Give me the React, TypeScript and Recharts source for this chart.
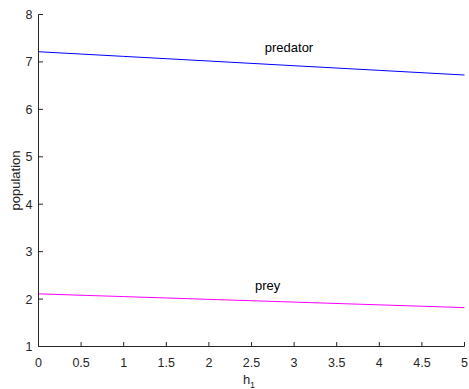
import { CartesianGrid, Line, LineChart, ReferenceDot, XAxis, YAxis } from 'recharts';

const h1Values = [0, 1, 2, 3, 4, 5];
const predator = [7.215, 7.117, 7.019, 6.92, 6.822, 6.724];
const prey = [2.11, 2.052, 1.994, 1.936, 1.878, 1.82];
const xTicks = [0, 0.5, 1, 1.5, 2, 2.5, 3, 3.5, 4, 4.5, 5];
const yTicks = [1, 2, 3, 4, 5, 6, 7, 8];

const data = h1Values.map((h, i) => ({ h, predator: predator[i], prey: prey[i] }));

const axisColor = '#262626';
const font = '"Liberation Sans", Arial, sans-serif';

function XTick({ x, y, payload }: any) {
  return (
    <g>
      <line x1={x} x2={x} y1={y} y2={y - 4.5} stroke={axisColor} strokeWidth={1} />
      <text x={x} y={y + 20} textAnchor="middle" fill={axisColor} fontSize={12.5} fontFamily={font}>
        {payload.value}
      </text>
    </g>
  );
}

function YTick({ x, y, payload }: any) {
  return (
    <g>
      <line x1={x} x2={x + 4.5} y1={y} y2={y} stroke={axisColor} strokeWidth={1} />
      <text x={x - 6} y={y + 4.5} textAnchor="end" fill={axisColor} fontSize={12.5} fontFamily={font}>
        {payload.value}
      </text>
    </g>
  );
}

function TextMark(text: string) {
  return ({ cx, cy }: any) => (
    <text x={cx} y={cy} textAnchor="middle" fill="#000" fontSize={13} fontFamily={font}>
      {text}
    </text>
  );
}

export default function App() {
  return (
    <div style={{ position: 'absolute', left: 0, top: 0, background: '#fff' }}>
      <LineChart width={469} height={389} data={data} margin={{ top: 14.5, right: 4.5, left: 0.5, bottom: 0 }}>
        <CartesianGrid stroke="none" />
        <XAxis
          dataKey="h"
          type="number"
          domain={[0, 5]}
          ticks={xTicks}
          interval={0}
          height={42.5}
          tickSize={0}
          tickMargin={0}
          tickLine={false}
          axisLine={{ stroke: axisColor }}
          tick={<XTick />}
          label={{
            content: () => (
              <text x={249} y={384} textAnchor="middle" fill={axisColor} fontSize={13} fontFamily={font}>
                h<tspan fontSize={9} dy={4}>1</tspan>
              </text>
            ),
          }}
        />
        <YAxis
          type="number"
          domain={[1, 8]}
          ticks={yTicks}
          interval={0}
          width={38}
          tickSize={0}
          tickMargin={0}
          tickLine={false}
          axisLine={{ stroke: axisColor }}
          tick={<YTick />}
          label={{
            content: () => (
              <text
                x={15}
                y={180.5}
                transform="rotate(-90 15 180.5)"
                textAnchor="middle"
                dominantBaseline="central"
                fill={axisColor}
                fontSize={13}
                fontFamily={font}
              >
                population
              </text>
            ),
          }}
        />
        <Line dataKey="predator" stroke="#0000ff" strokeWidth={1} dot={false} isAnimationActive={false} />
        <Line dataKey="prey" stroke="#ff00ff" strokeWidth={1} dot={false} isAnimationActive={false} />
        <ReferenceDot x={2.94} y={7.216} r={0} shape={TextMark('predator')} />
        <ReferenceDot x={2.69} y={2.19} r={0} shape={TextMark('prey')} />
      </LineChart>
    </div>
  );
}
